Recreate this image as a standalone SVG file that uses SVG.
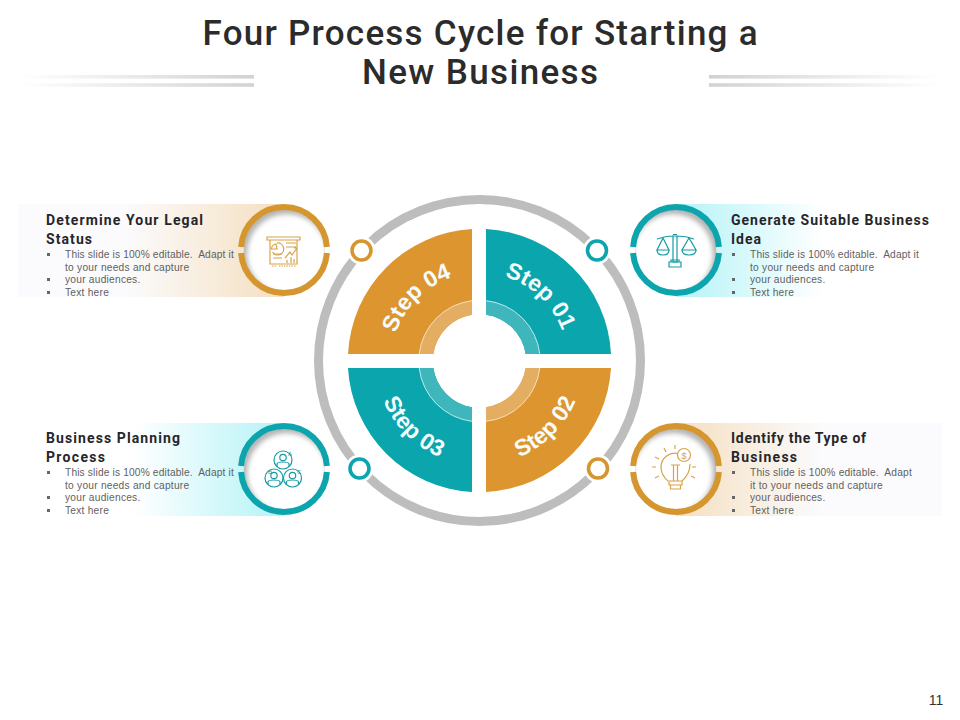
<svg xmlns="http://www.w3.org/2000/svg" width="960" height="720" viewBox="0 0 960 720">
<style>
text{font-family:"Liberation Sans",Arial,sans-serif}
.title{font-family:Roboto,"Liberation Sans",sans-serif;font-size:35px;font-weight:500;fill:#2b2b2b;text-anchor:middle}
.head{font-family:Roboto,"Liberation Sans",sans-serif;font-size:14px;font-weight:700;fill:#26262a}
.body{font-size:10.2px;fill:#5f5f5f;letter-spacing:.24px;white-space:pre}
.step{font-size:23px;font-weight:700;fill:#f6fbfb;text-anchor:middle}
.teal{fill:#0aa5ad}.gold{fill:#dd962f}
.tealL{fill:#3fb5bc}.goldL{fill:#e4ae62}
.ringT{fill:none;stroke:#0da5ad;stroke-width:6}
.ringG{fill:none;stroke:#d5962f;stroke-width:6}
.icT{fill:none;stroke:#159ca6;stroke-width:1.2}
.icG{fill:none;stroke:#d9a24a;stroke-width:1.2}
.lbT{font-size:6px;fill:#159ca6}
.sq{fill:#666}
</style>
<defs>
<linearGradient id="ruleL" x1="0" x2="1"><stop offset="0" stop-color="#fff"/><stop offset="1" stop-color="#d2d2d2"/></linearGradient>
<linearGradient id="ruleR" x1="0" x2="1"><stop offset="0" stop-color="#d2d2d2"/><stop offset="1" stop-color="#fff"/></linearGradient>
<linearGradient id="b1" x1="0" x2="1"><stop offset="0" stop-color="#fbfbff"/><stop offset=".4" stop-color="#fbfbfd"/><stop offset="1" stop-color="#f5dfc0"/></linearGradient>
<linearGradient id="b2" x1="0" x2="1"><stop offset="0" stop-color="#b4f3f7"/><stop offset="1" stop-color="#fff"/></linearGradient>
<linearGradient id="b3" x1="0" x2="1"><stop offset="0" stop-color="#fff"/><stop offset="1" stop-color="#b4f3f7"/></linearGradient>
<linearGradient id="b4" x1="0" x2="1"><stop offset="0" stop-color="#f5dfc0"/><stop offset=".55" stop-color="#fbfbfd"/><stop offset="1" stop-color="#fbfbff"/></linearGradient>
<filter id="blur" x="-30%" y="-30%" width="160%" height="160%"><feGaussianBlur stdDeviation="2.6"/></filter>
<clipPath id="c1"><circle cx="284" cy="250" r="40.5"/></clipPath>
<clipPath id="c2"><circle cx="676" cy="250" r="40.5"/></clipPath>
<clipPath id="c3"><circle cx="284" cy="469" r="40.5"/></clipPath>
<clipPath id="c4"><circle cx="676" cy="469" r="40.5"/></clipPath>
<path id="arc01" d="M479.5 273A88 88 0 0 1 567.5 361"/>
<path id="arc04" d="M391.5 361A88 88 0 0 1 479.5 273"/>
<path id="arc03" d="M375.5 361A104 104 0 0 0 479.5 465"/>
<path id="arc02" d="M479.5 465A104 104 0 0 0 583.5 361"/>
</defs>

<g id="title">
<text class="title" x="480" y="45" textLength="555" lengthAdjust="spacing">Four Process Cycle for Starting a</text>
<text class="title" x="480" y="84" textLength="236" lengthAdjust="spacing">New Business</text>
<rect x="20" y="75" width="234" height="3.6" fill="url(#ruleL)"/>
<rect x="20" y="83.2" width="234" height="3.6" fill="url(#ruleL)"/>
<rect x="709" y="75" width="231" height="3.6" fill="url(#ruleR)"/>
<rect x="709" y="83.2" width="231" height="3.6" fill="url(#ruleR)"/>
</g>

<g id="connectors">
<circle cx="479.5" cy="360.5" r="161" fill="none" stroke="#bdbdbd" stroke-width="9"/>
<g fill="#fff"><circle cx="361.5" cy="250.5" r="14"/><circle cx="597" cy="250.5" r="14"/><circle cx="359.5" cy="468.5" r="14"/><circle cx="598" cy="468.5" r="14"/></g>
<circle cx="361.5" cy="250.5" r="9.5" fill="#fff" stroke="#d5962f" stroke-width="3.6"/>
<circle cx="597" cy="250.5" r="9.5" fill="#fff" stroke="#0da5ad" stroke-width="3.6"/>
<circle cx="359.5" cy="468.5" r="9.5" fill="#fff" stroke="#0da5ad" stroke-width="3.6"/>
<circle cx="598" cy="468.5" r="9.5" fill="#fff" stroke="#d5962f" stroke-width="3.6"/>
</g>

<g id="step-01">
<path class="teal" d="M486 354H611A131.7 131.7 0 0 0 486 229V314.75A46.7 46.7 0 0 1 525.67 354Z"/>
<path class="tealL" d="M486 300.65A60.7 60.7 0 0 1 539.8 354H525.67A46.7 46.7 0 0 0 486 314.75Z"/>
<path d="M486 300.65A60.7 60.7 0 0 1 539.8 354" fill="none" stroke="#e6f8f8" stroke-width=".8"/>
<text class="step"><textPath href="#arc01" startOffset="48%">Step 01</textPath></text>
</g>
<g id="step-02">
<path class="gold" d="M486 368H611A131.7 131.7 0 0 1 486 492V407.25A46.7 46.7 0 0 0 525.67 368Z"/>
<path class="goldL" d="M486 421.35A60.7 60.7 0 0 0 539.8 368H525.67A46.7 46.7 0 0 1 486 407.25Z"/>
<path d="M486 421.35A60.7 60.7 0 0 0 539.8 368" fill="none" stroke="#fbeedd" stroke-width=".8"/>
<text class="step"><textPath href="#arc02" startOffset="50%">Step 02</textPath></text>
</g>
<g id="step-03">
<path class="teal" d="M472 368H348A131.7 131.7 0 0 0 472 492V407.25A46.7 46.7 0 0 1 433.33 368Z"/>
<path class="tealL" d="M472 421.35A60.7 60.7 0 0 1 419.2 368H433.33A46.7 46.7 0 0 0 472 407.25Z"/>
<path d="M472 421.35A60.7 60.7 0 0 1 419.2 368" fill="none" stroke="#e6f8f8" stroke-width=".8"/>
<text class="step"><textPath href="#arc03" startOffset="50%">Step 03</textPath></text>
</g>
<g id="step-04">
<path class="gold" d="M472 354H348A131.7 131.7 0 0 1 472 229V314.75A46.7 46.7 0 0 0 433.33 354Z"/>
<path class="goldL" d="M472 300.65A60.7 60.7 0 0 0 419.2 354H433.33A46.7 46.7 0 0 1 472 314.75Z"/>
<path d="M472 300.65A60.7 60.7 0 0 0 419.2 354" fill="none" stroke="#fbeedd" stroke-width=".8"/>
<text class="step"><textPath href="#arc04" startOffset="50%">Step 04</textPath></text>
</g>

<g id="node-legal">
<rect x="18" y="204" width="266" height="93" fill="url(#b1)"/>
<circle cx="284" cy="250" r="41" fill="#fff"/>
<g clip-path="url(#c1)"><circle cx="284" cy="250" r="41" fill="#b4b4b4"/><circle cx="287" cy="254" r="40" fill="#fff" filter="url(#blur)"/></g>
<path class="ringG" d="M241.1 247A43 43 0 0 1 326.9 247M326.9 253A43 43 0 0 1 241.1 253"/>
<g class="icG">
<path d="M267 237H300V240H267ZM270 240V264H297V240M273 258H282M273 254H282M286 243H296M286 247H296M285 258L290 252L292 255L297 248M294 248H297V251M287 263V260M291 263V257M294 263V259"/>
<path d="M272 266H276M279 266H296" stroke-dasharray="1.5 1"/>
<path d="M277 243A6 6 0 1 1 272.5 252"/><path d="M277 249H271.5A5 5 0 0 1 276 244Z"/>
</g>
<text class="head" x="46" y="225" textLength="157">Determine Your Legal</text>
<text class="head" x="46" y="244" textLength="46">Status</text>
<rect class="sq" x="47" y="253" width="3" height="3"/><text class="body" x="65" y="258" textLength="169">This slide is 100% editable.  Adapt it</text>
<text class="body" x="65" y="271">to your needs and capture</text>
<rect class="sq" x="47" y="278" width="3" height="3"/><text class="body" x="65" y="283">your audiences.</text>
<rect class="sq" x="47" y="291" width="3" height="3"/><text class="body" x="65" y="296">Text here</text>
</g>

<g id="node-idea">
<rect x="676" y="204" width="148" height="93" fill="url(#b2)"/>
<circle cx="676" cy="250" r="41" fill="#fff"/>
<g clip-path="url(#c2)"><circle cx="676" cy="250" r="41" fill="#b4b4b4"/><circle cx="673" cy="254" r="40" fill="#fff" filter="url(#blur)"/></g>
<path class="ringT" d="M633.1 247A43 43 0 0 1 718.9 247M718.9 253A43 43 0 0 1 633.1 253"/>
<g class="icT">
<path d="M657 239Q666 236 673 236M677 236Q686 236 694 239M673 236V262H677V236ZM672 236H678M673 234.5H677"/>
<path d="M669 262H681V267H669ZM671 262V260H679V262"/>
<path d="M663 238L657 250H669ZM657 250Q657 255 663 255Q669 255 669 250"/>
<path d="M689 238L682 250H696ZM682 250Q682 255 689 255Q696 255 696 250"/>
</g>
<text class="head" x="731" y="225" textLength="198">Generate Suitable Business</text>
<text class="head" x="731" y="244" textLength="30">Idea</text>
<rect class="sq" x="732" y="253" width="3" height="3"/><text class="body" x="750" y="258" textLength="169">This slide is 100% editable.  Adapt it</text>
<text class="body" x="750" y="271">to your needs and capture</text>
<rect class="sq" x="732" y="278" width="3" height="3"/><text class="body" x="750" y="283">your audiences.</text>
<rect class="sq" x="732" y="291" width="3" height="3"/><text class="body" x="750" y="296">Text here</text>
</g>

<g id="node-planning">
<rect x="133" y="423" width="151" height="93" fill="url(#b3)"/>
<circle cx="284" cy="469" r="41" fill="#fff"/>
<g clip-path="url(#c3)"><circle cx="284" cy="469" r="41" fill="#b4b4b4"/><circle cx="287" cy="473" r="40" fill="#fff" filter="url(#blur)"/></g>
<path class="ringT" d="M241.1 466A43 43 0 0 1 326.9 466M326.9 472A43 43 0 0 1 241.1 472"/>
<g class="icT">
<circle cx="283" cy="460" r="9"/><circle cx="274" cy="478" r="9"/><circle cx="292.500" cy="478" r="9"/>
<circle cx="283" cy="457.500" r="3.200"/><path d="M277 467V464Q277 462 283 462Q289 462 289 464V467"/>
<circle cx="274" cy="475.500" r="3.200"/><path d="M268 485V482Q268 480 274 480Q280 480 280 482V485"/>
<circle cx="292.500" cy="475.500" r="3.200"/><path d="M286.500 485V482Q286.500 480 292.500 480Q298.500 480 298.500 482V485"/>
</g>
<text class="lbT" x="288" y="456">A</text><text class="lbT" x="268" y="474">B</text><text class="lbT" x="297" y="474">C</text>
<text class="head" x="46" y="443" textLength="134">Business Planning</text>
<text class="head" x="46" y="462" textLength="59">Process</text>
<rect class="sq" x="47" y="471" width="3" height="3"/><text class="body" x="65" y="476" textLength="169">This slide is 100% editable.  Adapt it</text>
<text class="body" x="65" y="489">to your needs and capture</text>
<rect class="sq" x="47" y="496" width="3" height="3"/><text class="body" x="65" y="501">your audiences.</text>
<rect class="sq" x="47" y="509" width="3" height="3"/><text class="body" x="65" y="514">Text here</text>
</g>

<g id="node-type">
<rect x="676" y="423" width="266" height="93" fill="url(#b4)"/>
<circle cx="676" cy="469" r="41" fill="#fff"/>
<g clip-path="url(#c4)"><circle cx="676" cy="469" r="41" fill="#b4b4b4"/><circle cx="673" cy="473" r="40" fill="#fff" filter="url(#blur)"/></g>
<path class="ringG" d="M633.1 466A43 43 0 0 1 718.9 466M718.9 472A43 43 0 0 1 633.1 472"/>
<g class="icG">
<path d="M668 481Q661 475 661 467A14 14 0 0 1 678 453.500M690 464Q690 474 682 481"/>
<path d="M671 465H680M673.500 465V481M677.500 465V481M669 481H682V485H669ZM670.500 485H680.500V489H670.500Z"/>
<circle cx="684" cy="455" r="6.500"/>
<path d="M656 467H652M659 459L655 457M666 452L664 448M675 449V445M659 476L655 478M696 467H692M691 476L695 478"/>
</g>
<text x="684" y="458.500" font-size="9" fill="#d9a24a" text-anchor="middle">$</text>
<text class="head" x="731" y="443" textLength="135">Identify the Type of</text>
<text class="head" x="731" y="462" textLength="66">Business</text>
<rect class="sq" x="732" y="471" width="3" height="3"/><text class="body" x="750" y="476" textLength="162">This slide is 100% editable.  Adapt</text>
<text class="body" x="750" y="489">it to your needs and capture</text>
<rect class="sq" x="732" y="496" width="3" height="3"/><text class="body" x="750" y="501">your audiences.</text>
<rect class="sq" x="732" y="509" width="3" height="3"/><text class="body" x="750" y="514">Text here</text>
</g>
<text id="page" x="936" y="705" font-size="14" fill="#333" text-anchor="middle">11</text>
</svg>
